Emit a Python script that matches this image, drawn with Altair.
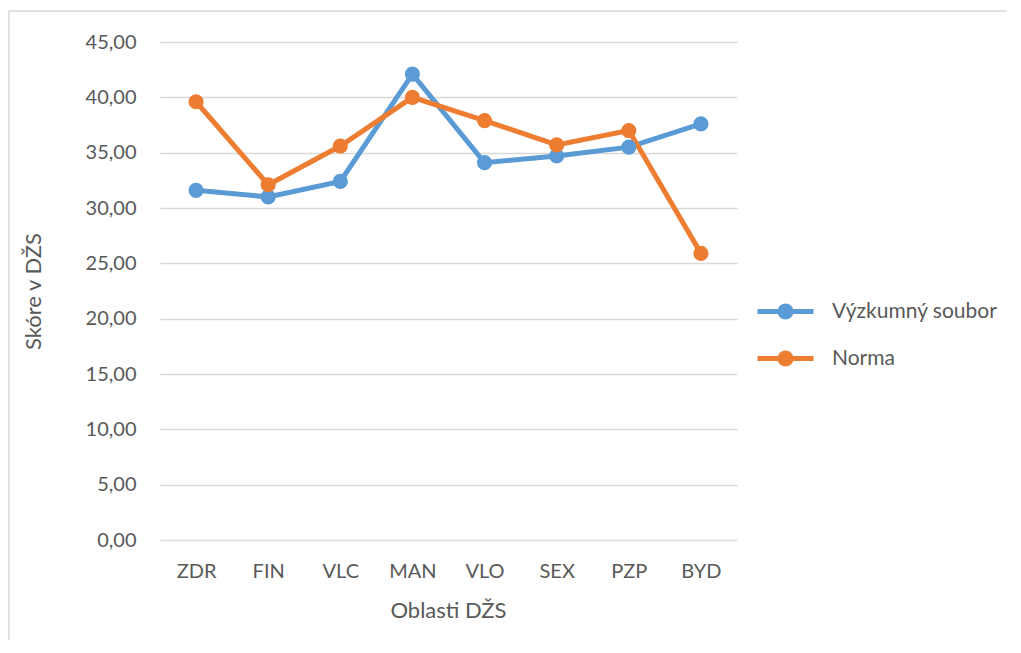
import altair as alt
import pandas as pd

categories = ["ZDR", "FIN", "VLC", "MAN", "VLO", "SEX", "PZP", "BYD"]
vyzkumny = [31.6, 31.0, 32.4, 42.1, 34.1, 34.7, 35.5, 37.6]
norma = [39.6, 32.1, 35.6, 40.0, 37.9, 35.7, 37.0, 25.9]
series_names = ["Výzkumný soubor", "Norma"]
colors = ["#5b9bd5", "#ed7d31"]

rows = []
for i, c in enumerate(categories):
    rows.append({"oblast": c, "serie": series_names[0], "skore": vyzkumny[i], "ord": 0})
for i, c in enumerate(categories):
    rows.append({"oblast": c, "serie": series_names[1], "skore": norma[i], "ord": 1})
df = pd.DataFrame(rows)

FONT = "Lato"
GRAY = "#595959"

border = alt.Chart(pd.DataFrame({"a": [0]})).mark_rect(
    fill="transparent", stroke="#d9d9d9", strokeWidth=1.5
).encode(
    x=alt.value(-151), x2=alt.value(900), y=alt.value(-31), y2=alt.value(660)
)

legend_path = "M-2.8,0H2.8M-0.55,0A0.55,0.55,0,1,1,0.55,0A0.55,0.55,0,1,1,-0.55,0Z"

lines = alt.Chart(df).mark_line(
    strokeWidth=5,
    point=alt.OverlayMarkDef(size=230, filled=True, opacity=1),
).encode(
    x=alt.X("oblast:N", sort=categories, scale=alt.Scale(paddingInner=0, paddingOuter=0.5),
            axis=alt.Axis(title="Oblasti DŽS", labelAngle=0, ticks=False, domain=False,
                          grid=False, labelPadding=21, labelFontSize=20, labelColor=GRAY,
                          labelFont=FONT, titleFont=FONT, titleFontSize=22, titleColor=GRAY,
                          titleFontWeight="normal", titleX=288, titleY=70,
                          titleBaseline="middle")),
    y=alt.Y("skore:Q", scale=alt.Scale(domain=[0, 45], nice=False),
            axis=alt.Axis(title="Skóre v DŽS", values=[0, 5, 10, 15, 20, 25, 30, 35, 40, 45],
                          labelExpr="replace(format(datum.value, '.2f'), '.', ',')",
                          ticks=False, domain=False, labelPadding=24, labelFontSize=20,
                          labelColor=GRAY, labelFont=FONT, titleFont=FONT, titleFontSize=22,
                          titleColor=GRAY, titleFontWeight="normal", titleX=-127, titleY=249,
                          titleAngle=-90, titleAlign="center", titleBaseline="middle",
                          gridColor="#d9d9d9", gridWidth=1.5)),
    color=alt.Color("serie:N", sort=series_names,
                    scale=alt.Scale(domain=series_names, range=colors),
                    legend=alt.Legend(title=None, orient="none", legendX=613, legendY=257,
                                      symbolType=legend_path, symbolSize=400,
                                      symbolStrokeWidth=5, labelFontSize=21,
                                      labelColor=GRAY, labelFont=FONT, labelOffset=34,
                                      labelLimit=400, rowPadding=16)),
    order=alt.Order("ord:Q"),
    detail="serie:N",
)

chart = alt.layer(border, lines).properties(
    width=577, height=498,
    autosize=alt.AutoSizeParams(type="none"),
    padding={"left": 152, "top": 34, "right": 270, "bottom": 100},
).configure_view(stroke=None)

chart.save("out.html", embed_options={"renderer": "svg", "actions": False})
